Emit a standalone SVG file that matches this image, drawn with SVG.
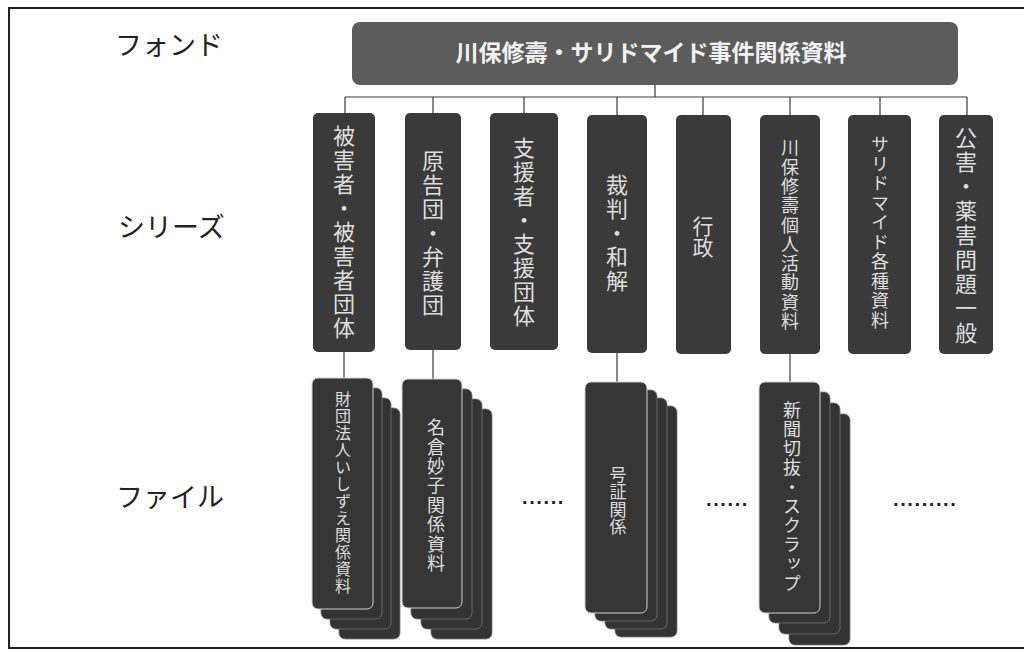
<svg xmlns="http://www.w3.org/2000/svg" width="1024" height="652" viewBox="0 0 1024 652">
<style>
.lbl{font-family:"Noto Sans CJK JP","Noto Sans",sans-serif;font-size:27px;fill:#222;}
.top{fill:#5c5c5c;}
.topt{font-family:"Noto Sans CJK JP",sans-serif;font-size:23px;font-weight:bold;fill:#f2f2f2;}
.ser{fill:#3a3a3a;}
.vt{font-family:"Noto Sans CJK JP",sans-serif;fill:#dedede;writing-mode:vertical-rl;text-anchor:middle;}
.card{fill:#333;stroke:#777;stroke-width:0.8;}
.front{fill:#363636;stroke:#d0d0d0;stroke-width:1;}
.conn{stroke:#3a3a3a;stroke-width:1.2;fill:none;}
.dots{font-family:"Liberation Sans",sans-serif;font-size:20px;font-weight:bold;fill:#222;letter-spacing:1.6px;}
</style>
<rect width="1024" height="652" fill="#fff"/>
<path d="M1024,8 H9 V648 H1024" fill="none" stroke="#222" stroke-width="2"/>

<g id="labels">
<text class="lbl" x="115" y="55">フォンド</text>
<text class="lbl" x="118" y="237">シリーズ</text>
<text class="lbl" x="116" y="507">ファイル</text>
</g>

<g id="connectors">
<path class="conn" d="M655,85 V97 M345,97 H967 M345,97 V113 M433,97 V113 M524,97 V113 M617,97 V115 M703,97 V115 M790,97 V115 M880,97 V115 M967,97 V115"/>
<path class="conn" d="M344,352 V378 M433,350 V379 M617,353 V382 M790,353 V382"/>
</g>

<g id="fond">
<rect class="top" x="352" y="22" width="606" height="63" rx="8"/>
<text class="topt" x="651" y="61" text-anchor="middle">川保修壽・サリドマイド事件関係資料</text>
</g>

<g id="series1"><rect class="ser" x="313" y="113" width="62" height="239" rx="5"/><text class="vt" x="344" y="233" font-size="22" letter-spacing="2">被害者・被害者団体</text></g>
<g id="series2"><rect class="ser" x="405" y="113" width="56" height="237" rx="5"/><text class="vt" x="433" y="234" font-size="22" letter-spacing="2">原告団・弁護団</text></g>
<g id="series3"><rect class="ser" x="490" y="113" width="68" height="237" rx="5"/><text class="vt" x="524" y="233" font-size="22" letter-spacing="2">支援者・支援団体</text></g>
<g id="series4"><rect class="ser" x="587" y="115" width="60" height="238" rx="5"/><text class="vt" x="617" y="234" font-size="22" letter-spacing="2">裁判・和解</text></g>
<g id="series5"><rect class="ser" x="676" y="115" width="55" height="239" rx="5"/><text class="vt" x="703" y="237" font-size="21">行政</text></g>
<g id="series6"><rect class="ser" x="760" y="115" width="60" height="239" rx="5"/><text class="vt" x="790" y="235" font-size="18" letter-spacing="1.3">川保修壽個人活動資料</text></g>
<g id="series7"><rect class="ser" x="848" y="115" width="63" height="239" rx="5"/><text class="vt" x="880" y="233" font-size="18" letter-spacing="1.5">サリドマイド各種資料</text></g>
<g id="series8"><rect class="ser" x="939" y="115" width="54" height="239" rx="5"/><text class="vt" x="966" y="236" font-size="22" letter-spacing="2.4">公害・薬害問題一般</text></g>

<g id="file1">
<rect class="card" x="339" y="408" width="61" height="231" rx="6"/>
<rect class="card" x="330" y="398" width="61" height="231" rx="6"/>
<rect class="card" x="321" y="388" width="61" height="231" rx="6"/>
<rect class="front" x="312" y="378" width="61" height="231" rx="6"/>
<text class="vt" x="343" y="493" font-size="16" letter-spacing="1">財団法人いしずえ関係資料</text>
</g>
<g id="file2">
<rect class="card" x="431" y="409" width="61" height="230" rx="6"/>
<rect class="card" x="421" y="399" width="61" height="230" rx="6"/>
<rect class="card" x="411" y="389" width="61" height="230" rx="6"/>
<rect class="front" x="402" y="379" width="60" height="229" rx="6"/>
<text class="vt" x="436" y="496" font-size="18" letter-spacing="1.4">名倉妙子関係資料</text>
</g>
<g id="file3">
<rect class="card" x="615" y="406" width="62" height="231" rx="6"/>
<rect class="card" x="605" y="398" width="62" height="231" rx="6"/>
<rect class="card" x="595" y="390" width="62" height="231" rx="6"/>
<rect class="front" x="585" y="382" width="62" height="231" rx="6"/>
<text class="vt" x="618" y="501" font-size="17" letter-spacing="0.5">号証関係</text>
</g>
<g id="file4">
<rect class="card" x="789" y="414" width="61" height="231" rx="6"/>
<rect class="card" x="779" y="403" width="61" height="231" rx="6"/>
<rect class="card" x="769" y="392" width="61" height="231" rx="6"/>
<rect class="front" x="759" y="382" width="61" height="231" rx="6"/>
<text class="vt" x="792" y="497" font-size="18" letter-spacing="1.2">新聞切抜・スクラップ</text>
</g>

<g id="ellipses">
<text class="dots" x="522" y="504">......</text>
<text class="dots" x="706" y="506">......</text>
<text class="dots" x="893" y="506">.........</text>
</g>
</svg>
